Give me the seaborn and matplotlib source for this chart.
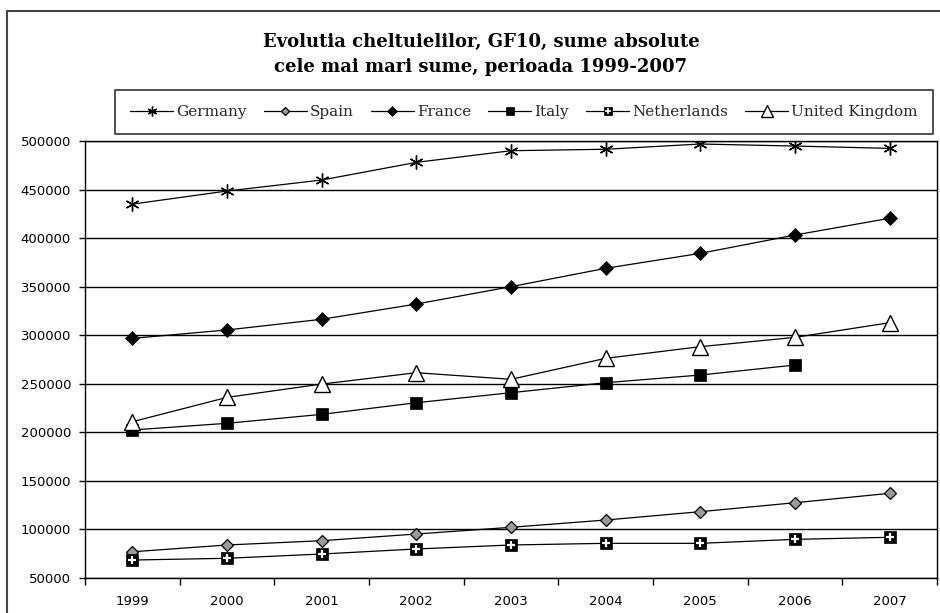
import matplotlib
matplotlib.use("Agg")
import matplotlib.pyplot as plt
from matplotlib.lines import Line2D
from matplotlib.legend_handler import HandlerTuple
import numpy as np
import pandas as pd
import seaborn as sns

years = [1999, 2000, 2001, 2002, 2003, 2004, 2005, 2006, 2007]
germany = [435000, 448500, 459800, 478000, 490000, 491500, 496900, 494800, 492400]
spain = [77000, 84000, 88400, 95300, 102200, 109700, 118300, 127500, 137200]
france = [296800, 305400, 316400, 332100, 350000, 368900, 384300, 403200, 420400]
italy = [202400, 209300, 218500, 230500, 240800, 251100, 259000, 269300, np.nan]
netherlands = [68500, 70300, 74700, 79900, 84000, 85700, 85700, 89800, 91900]
uk = [210900, 236000, 249700, 261400, 254600, 276200, 288200, 297800, 312900]
yticks = [50000, 100000, 150000, 200000, 250000, 300000, 350000, 400000, 450000, 500000]
title_lines = ["Evolutia cheltuielilor, GF10, sume absolute",
               "cele mai mari sume, perioada 1999-2007"]

sns.set_theme(style="white")
plt.rcParams['font.family'] = ['DejaVu Sans']

fig = plt.figure(figsize=(9.4, 6.13), dpi=100)
fig.patch.set_facecolor("white")
ax = fig.add_axes([85/940, 1-578/613, (937-85)/940, (578-141)/613])

series = [
    ("Germany", germany, dict(marker=(6, 2, 0), markersize=10, markeredgewidth=1.0,
                               markerfacecolor="black", markeredgecolor="black")),
    ("Spain", spain, dict(marker="D", markersize=6, markeredgewidth=0.9,
                           markerfacecolor="#9a9a9a", markeredgecolor="black")),
    ("France", france, dict(marker="D", markersize=7, markeredgewidth=0.5,
                             markerfacecolor="black", markeredgecolor="black")),
    ("Italy", italy, dict(marker="s", markersize=8, markeredgewidth=0.5,
                           markerfacecolor="black", markeredgecolor="black")),
    ("Netherlands", netherlands, dict(marker="s", markersize=8, markeredgewidth=0.5,
                                       markerfacecolor="black", markeredgecolor="black")),
    ("United Kingdom", uk, dict(marker="^", markersize=12, markeredgewidth=1.0,
                                 markerfacecolor="white", markeredgecolor="black")),
]

handles = []
labels = []
for name, vals, mk in series:
    df = pd.DataFrame({"year": years, "value": vals}).dropna()
    sns.lineplot(data=df, x="year", y="value", ax=ax, color="black", linewidth=0.9,
                 **mk)
    lmk = dict(mk)
    lmk["markersize"] = mk["markersize"] * 0.7
    h = Line2D([], [], color="black", linewidth=0.9, **lmk)
    if name == "Netherlands":
        sns.lineplot(data=df, x="year", y="value", ax=ax, color="white", linewidth=0,
                     marker="+", markersize=6, markeredgewidth=1.6,
                     markeredgecolor="white")
        plus = Line2D([], [], linewidth=0, marker="+", markersize=4,
                      markeredgewidth=1.2, markeredgecolor="white")
        h = (h, plus)
    handles.append(h)
    labels.append(name)

ax.set_xlim(1998.5, 2007.5)
ax.set_ylim(50000, 500000)
ax.set_xticks(years)
ax.set_xticklabels([str(y) for y in years])
ax.set_xticks(np.arange(1998.5, 2008, 1.0), minor=True)
ax.set_yticks(yticks)
ax.set_yticklabels([str(v) for v in yticks])
ax.set_xlabel("")
ax.set_ylabel("")
ax.tick_params(axis="x", which="major", length=0, labelsize=9.5, pad=12, colors="black")
ax.tick_params(axis="x", which="minor", length=5, width=1, direction="out", bottom=True,
               color="black")
ax.tick_params(axis="y", which="major", length=4, width=1, direction="out", left=True,
               labelsize=9.5, pad=6, colors="black")
ax.yaxis.grid(True, color="black", linewidth=1.0)
ax.xaxis.grid(False)
ax.set_axisbelow(True)
for sp in ax.spines.values():
    sp.set_color("black")
    sp.set_linewidth(1.0)
ax.set_facecolor("white")

for i, t in enumerate(title_lines):
    fig.text(481/940, 1 - (42 + 25*i)/613, t, ha="center", va="center",
             family="DejaVu Serif", fontweight="bold", fontsize=13, color="black")

leg = fig.legend(handles, labels, loc="center",
                 bbox_to_anchor=(115/940, 1-136/613, (933-115)/940, 48/613),
                 mode="expand", ncol=6, frameon=True, fancybox=False,
                 edgecolor="black", prop=dict(family="DejaVu Serif", size=11),
                 handlelength=2.8, handletextpad=0.2, columnspacing=0.8,
                 borderpad=1.0, borderaxespad=0,
                 handler_map={tuple: HandlerTuple(ndivide=1, pad=0)})
leg.get_frame().set_linewidth(1.2)

# outer chart frame (top and left edges visible in the reference)
fig.add_artist(Line2D([7/940, 1.0], [1-11/613, 1-11/613], transform=fig.transFigure,
                      color="#444444", linewidth=1.5))
fig.add_artist(Line2D([7/940, 7/940], [0.0, 1-11/613], transform=fig.transFigure,
                      color="#444444", linewidth=1.5))

fig.savefig("out.png", dpi=100)
